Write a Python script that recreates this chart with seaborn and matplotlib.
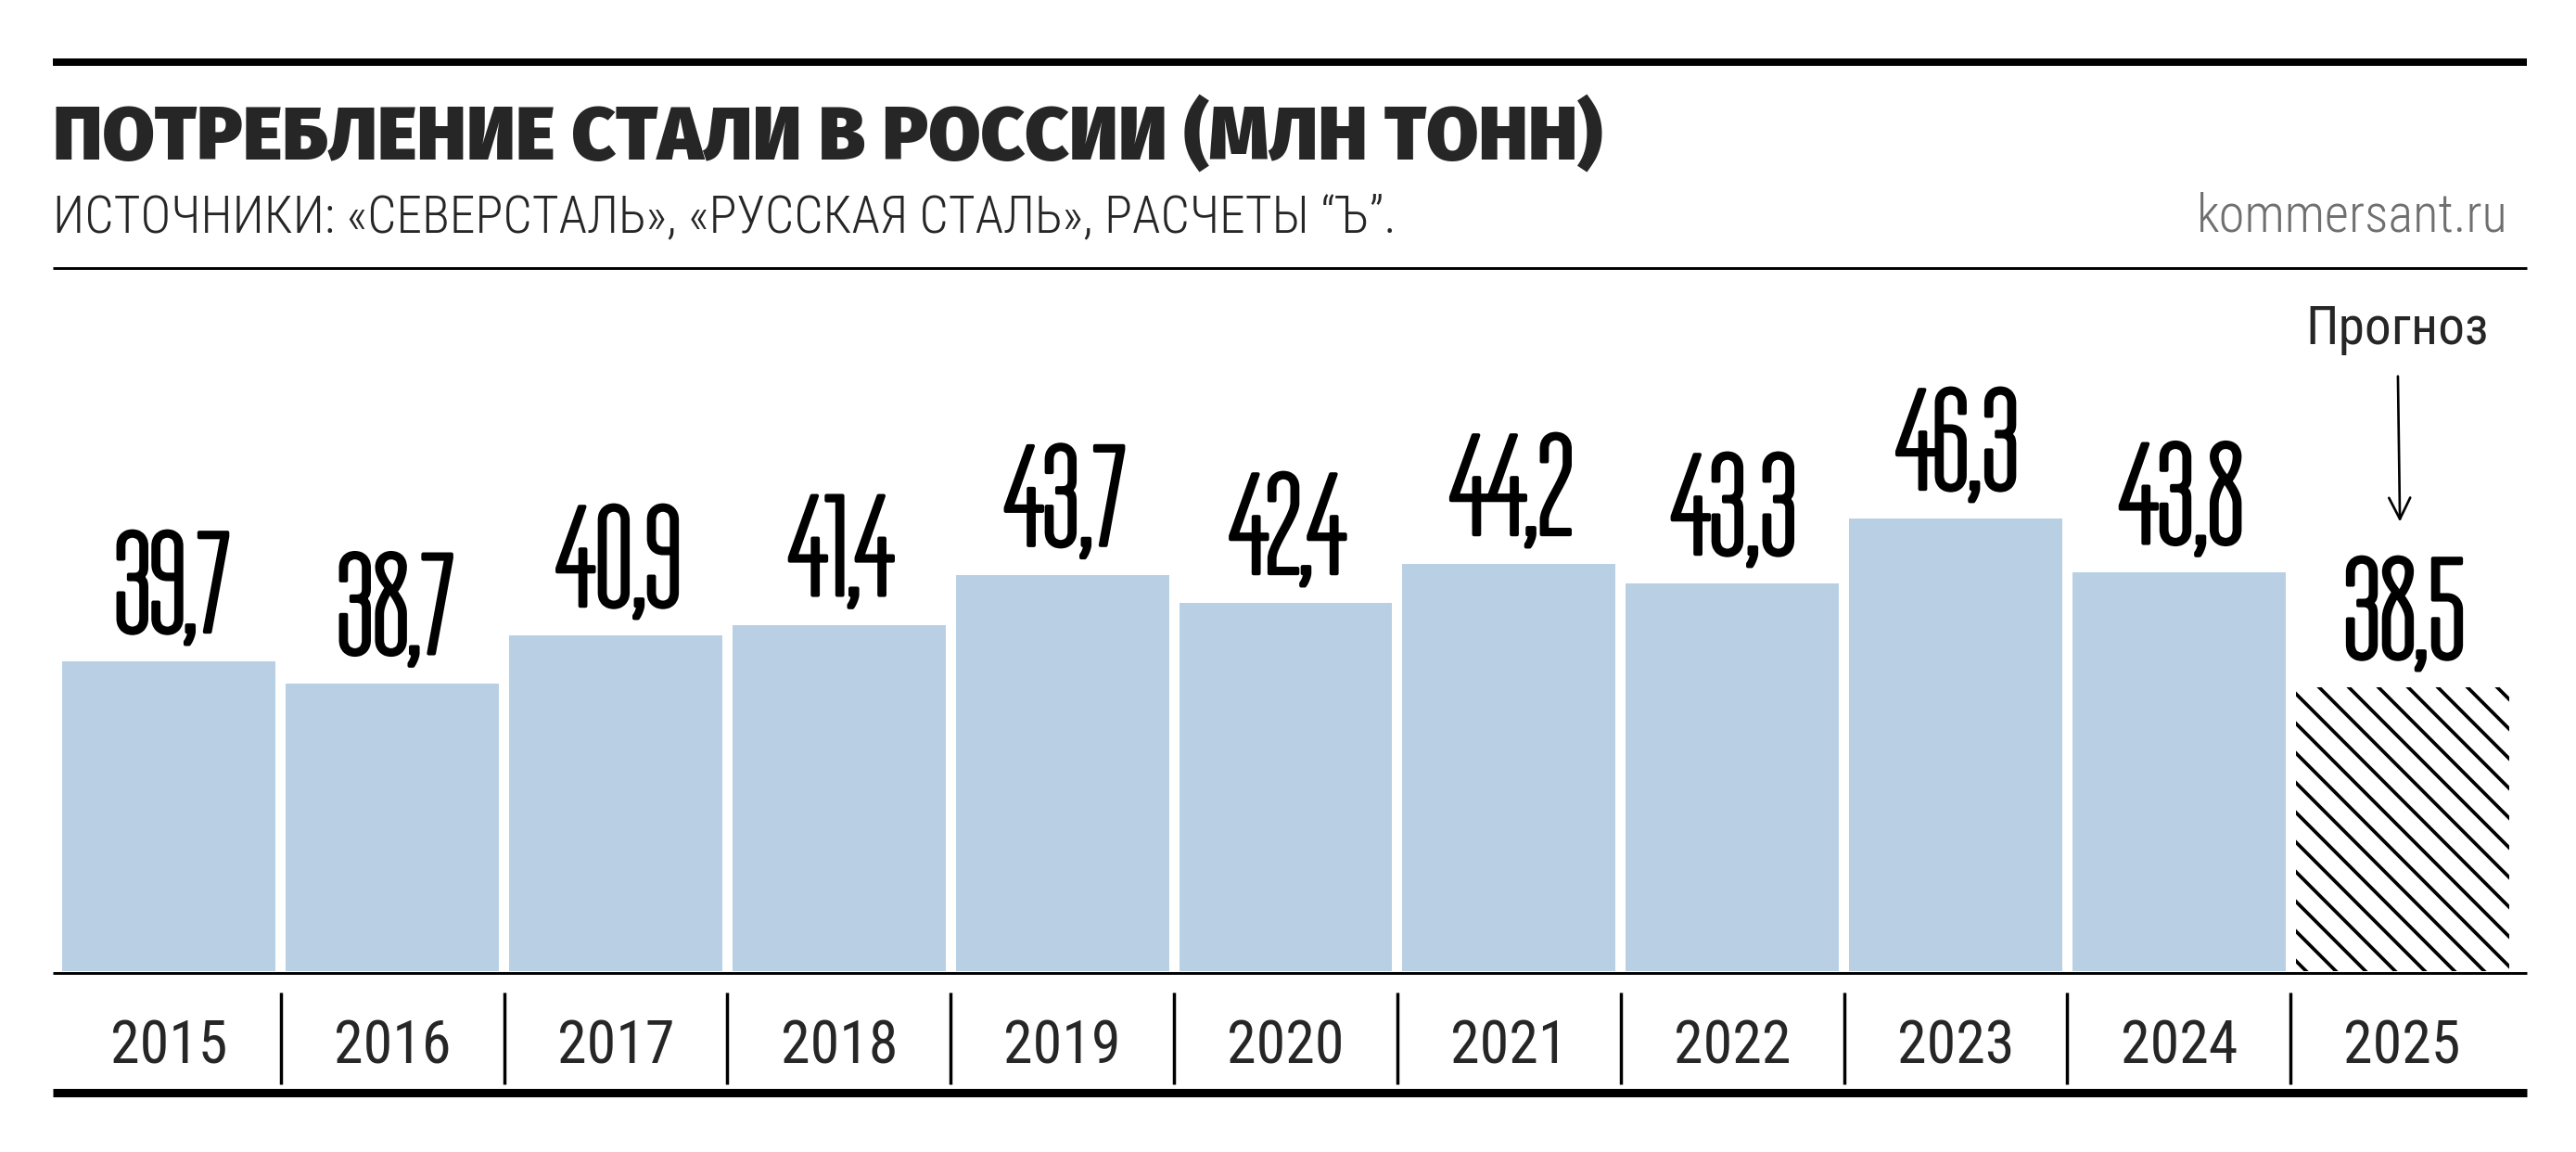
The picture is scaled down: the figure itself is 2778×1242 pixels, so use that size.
import matplotlib
matplotlib.use("Agg")
import matplotlib.pyplot as plt
import matplotlib.patheffects as pe
from matplotlib.lines import Line2D
import seaborn as sns
import pandas as pd

years = ["2015", "2016", "2017", "2018", "2019", "2020",
         "2021", "2022", "2023", "2024", "2025"]
values = [39.7, 38.7, 40.9, 41.4, 43.7, 42.4, 44.2, 43.3, 46.3, 43.8, 38.5]
value_labels = ["39,7", "38,7", "40,9", "41,4", "43,7", "42,4",
                "44,2", "43,3", "46,3", "43,8", "38,5"]
forecast_year = "2025"

title = "ПОТРЕБЛЕНИЕ СТАЛИ В РОССИИ (МЛН ТОНН)"
subtitle = "ИСТОЧНИКИ: «СЕВЕРСТАЛЬ», «РУССКАЯ СТАЛЬ», РАСЧЕТЫ “Ъ”."
site = "kommersant.ru"
forecast_note = "Прогноз"

bar_color = "#b9d0e4"

sns.set_style("white")
plt.rcParams["font.family"] = ["Roboto Condensed", "DejaVu Sans"]
plt.rcParams["hatch.linewidth"] = 1.4

num_font = ["Tulpen One", "Pathway Gothic One", "DejaVu Sans"]
title_font = ["Fira Sans", "Fira Sans Condensed", "Roboto Condensed", "DejaVu Sans"]

df = pd.DataFrame({"year": years, "value": values})
palette = {y: ("white" if y == forecast_year else bar_color) for y in years}

W, H, DPI = 2778, 1242, 192
fig = plt.figure(figsize=(W / DPI, H / DPI), dpi=DPI)


def fx(px):
    return px / W


def fy(px):
    return 1 - px / H


ax = fig.add_axes([fx(62), fy(1047), fx(2711 - 62), (1047 - 300) / H])
sns.barplot(data=df, x="year", y="value", hue="year", palette=palette,
            width=0.955, legend=False, ax=ax, saturation=1)
ax.set_ylim(25.4, 57.4)
ax.set_xlim(-0.5, 10.5)
for spine in ax.spines.values():
    spine.set_visible(False)
ax.set_yticks([])
ax.set_xlabel("")
ax.set_ylabel("")

for patch, y in zip(ax.patches, years):
    patch.set_linewidth(0)
    if y == forecast_year:
        patch.set_hatch("\\\\")
        patch.set_edgecolor("black")
        patch.set_facecolor("white")

# value labels
thick = [pe.Stroke(linewidth=1.5, foreground="black"), pe.Normal()]
for i, (v, lab) in enumerate(zip(values, value_labels)):
    ax.annotate(lab, xy=(i, v), xytext=(1, 12), textcoords="offset points",
                ha="center", va="baseline", fontsize=59, family=num_font,
                color="black", path_effects=thick)

# year labels and separators
ax.set_xticks(range(len(years)))
ax.set_xticklabels(years, fontsize=24)
ax.tick_params(axis="x", length=0, pad=19)
xt = ax.get_xaxis_transform()
ax.vlines([i + 0.5 for i in range(len(years) - 1)], -0.031, -0.163,
          transform=xt, color="black", lw=1.3, clip_on=False)

# forecast note with arrow
fi = years.index(forecast_year)
ax.annotate(forecast_note, xy=(fi, values[fi]), xytext=(-2, 139),
            textcoords="offset points", ha="center", va="baseline",
            fontsize=21.5,
            arrowprops=dict(arrowstyle="->", lw=1.0, color="black",
                            shrinkA=6.5, shrinkB=67))

# header
fig.text(fx(57), fy(172), title, fontsize=30.6, weight="black",
         family=title_font, va="baseline", ha="left")
fig.text(fx(57), fy(250), subtitle, fontsize=20.8, weight="light",
         va="baseline", ha="left")
fig.text(fx(2705), fy(250), site, fontsize=21.3, weight="light",
         color="#6f6f6f", va="baseline", ha="right")

# rules
for ypx, lw in [(67, 3.0), (289, 1.1), (1049, 1.1), (1178, 3.4)]:
    fig.add_artist(Line2D([fx(57), fx(2725)], [fy(ypx), fy(ypx)],
                          color="black", lw=lw, solid_capstyle="butt"))

fig.savefig("out.png", dpi=DPI)
